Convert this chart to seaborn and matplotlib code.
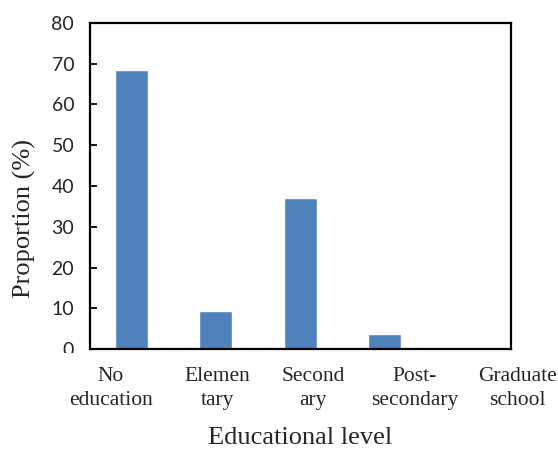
import matplotlib
matplotlib.use("Agg")
import matplotlib.pyplot as plt
import matplotlib.transforms as mtrans
import seaborn as sns
import pandas as pd

# ---- data ----
categories = ["No\neducation", "Elemen\ntary", "Second\nary", "Post-\nsecondary", "Graduate\nschool"]
proportions = [68.5, 9.4, 37.1, 3.8, 0.0]
y_ticks = [0, 10, 20, 30, 40, 50, 60, 70, 80]
x_title = "Educational level"
y_title = "Proportion (%)"

df = pd.DataFrame({"level": categories, "prop": proportions})

sns.set_theme(style="white")
plt.rcParams["font.family"] = ["Liberation Serif", "DejaVu Serif"]

fig = plt.figure(figsize=(5.58, 4.55), dpi=100)
ax = fig.add_axes([0.1604, 0.2323, 0.9153 - 0.1604, 0.950 - 0.2323])

sns.barplot(data=df, x="level", y="prop", color="#4F81BD", saturation=1,
            width=0.39, ax=ax, order=categories)

ax.set_ylim(0, 80)
ax.set_xlim(-0.5, 4.5)
ax.set_yticks(y_ticks)
ax.set_yticklabels([str(v) for v in y_ticks], family=["Lato", "DejaVu Sans"], fontsize=14)
ax.tick_params(axis="y", direction="in", length=5, width=1.3, color="black", pad=11, left=True)
ax.tick_params(axis="x", length=0, pad=13)
ax.set_xticks(range(len(categories)))
ax.set_xticklabels(categories, fontsize=15.5, linespacing=1.3)

# shift category labels as in the reference
offsets_pt = [-14.9, 1.3, 9.2, 21.8, 35.3]
for lbl, dx in zip(ax.get_xticklabels(), offsets_pt):
    lbl.set_transform(lbl.get_transform() + mtrans.ScaledTranslation(dx / 72, 0, fig.dpi_scale_trans))

for sp in ax.spines.values():
    sp.set_visible(True)
    sp.set_color("black")
    sp.set_linewidth(1.6)

ax.set_xlabel(x_title, fontsize=19)
ax.set_ylabel(y_title, fontsize=19)
ax.xaxis.set_label_coords(0.5, -0.238)
ax.yaxis.set_label_coords(-0.127, 0.402)

# the "0" label is partly cut off in the reference
zero_lbl = ax.yaxis.get_major_ticks()[0].label1
zero_lbl.set_clip_box(mtrans.TransformedBbox(mtrans.Bbox.from_extents(-1, -0.012, 2, 2), ax.transAxes))
zero_lbl.set_clip_on(True)

fig.savefig("out.png", dpi=100)
